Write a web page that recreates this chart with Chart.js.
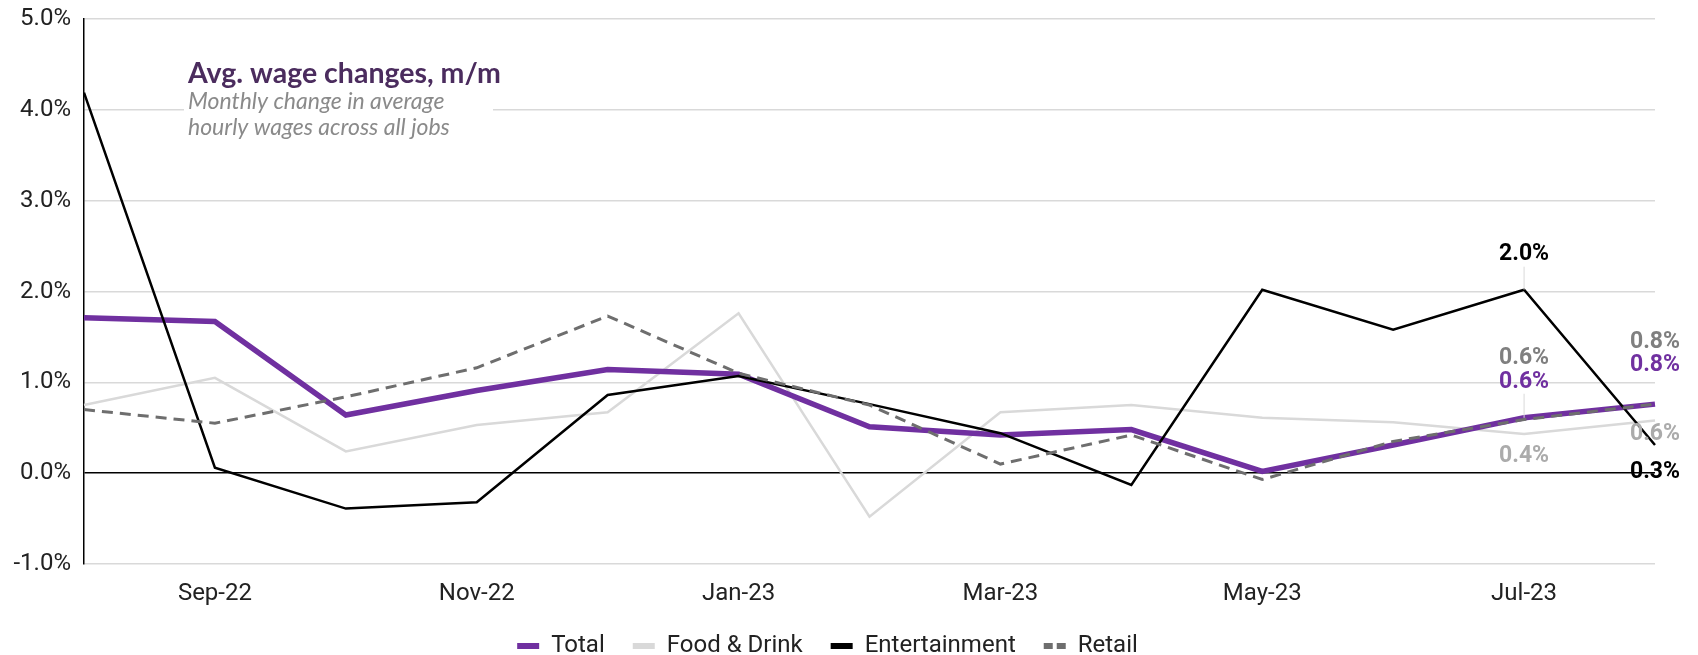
<!DOCTYPE html>
<html>
<head>
  <meta charset="utf-8">
  <script src="https://cdn.jsdelivr.net/npm/chart.js@4.4.0/dist/chart.umd.min.js"></script>
  <style>
    body { margin: 0; background: #fff; }
  </style>
</head>
<body>
  <canvas id="line-chart" width="1698" height="655"></canvas>
  <script>
    // monthly change in average hourly wages, %
    const months = ['Aug-22', 'Sep-22', 'Oct-22', 'Nov-22', 'Dec-22', 'Jan-23', 'Feb-23',
                    'Mar-23', 'Apr-23', 'May-23', 'Jun-23', 'Jul-23', 'Aug-23'];
    const total         = [1.71, 1.67, 0.64, 0.91, 1.14, 1.09, 0.51, 0.42, 0.48, 0.02, 0.31, 0.61, 0.76];
    const foodDrink     = [0.75, 1.05, 0.24, 0.53, 0.67, 1.76, -0.48, 0.67, 0.75, 0.61, 0.56, 0.43, 0.58];
    const entertainment = [4.19, 0.06, -0.39, -0.32, 0.86, 1.07, 0.76, 0.44, -0.13, 2.02, 1.58, 2.02, 0.31];
    const retail        = [0.70, 0.55, 0.84, 1.16, 1.73, 1.10, 0.75, 0.10, 0.42, -0.07, 0.35, 0.59, 0.76];
    const yTicks = [-1, 0, 1, 2, 3, 4, 5];

    const PURPLE = '#7030a0';
    const LIGHT = '#d9d9d9';
    const GREY = '#7f7f7f';

    // end-of-series value labels: dataset index, point index, offset, colour
    const valueLabels = [
      { ds: 2, i: 11, dy: -35, color: '#000', leader: true },
      { ds: 3, i: 11, dy: -61, color: GREY },
      { ds: 0, i: 11, dy: -36, color: PURPLE, leader: true },
      { ds: 1, i: 11, dy: 22, color: '#ababab' },
      { ds: 3, i: 12, dy: -62, color: GREY },
      { ds: 0, i: 12, dy: -39, color: PURPLE },
      { ds: 1, i: 12, dy: 14, color: '#ababab' },
      { ds: 2, i: 12, dy: 27, color: '#000' }
    ];

    const fmt = v => v.toFixed(1) + '%';

    const titleBox = {
      id: 'titleBox',
      beforeDatasetsDraw(chart) {
        const ctx = chart.ctx;
        const x = chart.chartArea.left + 104;
        ctx.save();
        ctx.fillStyle = '#fff';
        ctx.fillRect(x - 4, 50, 309, 92);
        ctx.textBaseline = 'middle';
        ctx.textAlign = 'left';
        ctx.fillStyle = '#4b2c5e';
        ctx.font = 'bold 28.5px Lato';
        ctx.fillText('Avg. wage changes, m/m', x, 74);
        ctx.fillStyle = '#8a8a8a';
        ctx.font = 'italic 23px Lato';
        ctx.fillText('Monthly change in average', x, 102);
        ctx.fillText('hourly wages across all jobs', x, 128);
        ctx.restore();
      }
    };

    const pointLabels = {
      id: 'pointLabels',
      afterDatasetsDraw(chart) {
        const ctx = chart.ctx;
        ctx.save();
        ctx.font = 'bold 23px Roboto';
        ctx.textAlign = 'center';
        ctx.textBaseline = 'middle';
        valueLabels.forEach(l => {
          const pt = chart.getDatasetMeta(l.ds).data[l.i];
          const v = chart.data.datasets[l.ds].data[l.i];
          if (l.leader) {
            ctx.strokeStyle = LIGHT;
            ctx.lineWidth = 1;
            ctx.beginPath();
            ctx.moveTo(pt.x, pt.y + l.dy + 12);
            ctx.lineTo(pt.x, pt.y);
            ctx.stroke();
          }
          ctx.fillStyle = l.color;
          ctx.fillText(fmt(v), pt.x, pt.y + l.dy);
        });
        ctx.restore();
      }
    };

    new Chart(document.getElementById('line-chart'), {
      type: 'line',
      data: {
        labels: months,
        datasets: [
          { label: 'Total', data: total, borderColor: PURPLE, backgroundColor: PURPLE, borderWidth: 5.5, order: 2 },
          { label: 'Food & Drink', data: foodDrink, borderColor: LIGHT, backgroundColor: LIGHT, borderWidth: 2.5, order: 3 },
          { label: 'Entertainment', data: entertainment, borderColor: '#000', backgroundColor: '#000', borderWidth: 2.5, order: 1 },
          { label: 'Retail', data: retail, borderColor: '#6e6e6e', backgroundColor: '#6e6e6e', borderWidth: 3, borderDash: [11, 7], order: 0 }
        ]
      },
      options: {
        responsive: false,
        animation: false,
        layout: { padding: { left: 0, right: 43, top: 19, bottom: -13 } },
        elements: {
          line: { tension: 0, fill: false },
          point: { radius: 0, hoverRadius: 0 }
        },
        scales: {
          x: {
            grid: { display: false, drawTicks: false },
            border: { display: false },
            afterFit: s => { s.height = 42; },
            ticks: {
              autoSkip: false,
              maxRotation: 0,
              padding: 16,
              color: '#222',
              font: { family: 'Roboto', size: 24 },
              callback: (v, i) => (i % 2 === 1 ? months[i] : '')
            }
          },
          y: {
            min: yTicks[0],
            max: yTicks[yTicks.length - 1],
            afterFit: s => { s.width = 84; s.paddingTop = 0; s.paddingBottom = 0; },
            afterBuildTicks: s => { s.ticks = yTicks.map(v => ({ value: v })); },
            grid: {
              drawTicks: false,
              lineWidth: 1.5,
              color: c => (c.tick && c.tick.value === 0 ? '#000' : LIGHT)
            },
            border: { display: true, color: '#000', width: 1.5 },
            ticks: {
              padding: 13,
              color: '#222',
              font: { family: 'Roboto', size: 24 },
              callback: v => fmt(v)
            }
          }
        },
        plugins: {
          tooltip: { enabled: false },
          legend: {
            position: 'bottom',
            labels: {
              usePointStyle: true,
              pointStyle: 'line',
              pointStyleWidth: 22,
              padding: 28,
              color: '#222',
              font: { family: 'Roboto', size: 24 },
              generateLabels: chart => chart.data.datasets.map((d, i) => ({
                text: d.label,
                strokeStyle: d.borderColor,
                fillStyle: d.borderColor,
                lineWidth: 6,
                lineDash: d.borderDash ? [9, 4] : [],
                lineCap: 'butt',
                pointStyle: 'line',
                fontColor: '#222',
                datasetIndex: i,
                hidden: false
              }))
            }
          }
        }
      },
      plugins: [titleBox, pointLabels]
    });
  </script>
</body>
</html>
